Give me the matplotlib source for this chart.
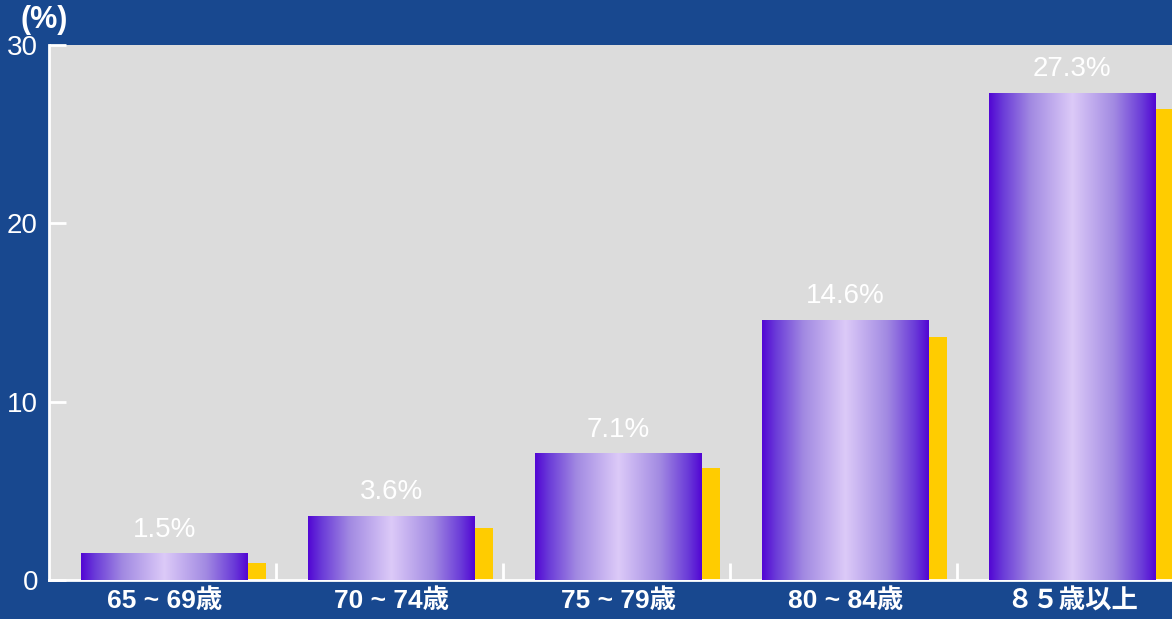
import numpy as np
import matplotlib
matplotlib.use("Agg")
import matplotlib.pyplot as plt
from matplotlib.colors import LinearSegmentedColormap
from matplotlib.patches import Rectangle

categories = ["65 ~ 69歳", "70 ~ 74歳", "75 ~ 79歳", "80 ~ 84歳", "８５歳以上"]
main_values = [1.5, 3.6, 7.1, 14.6, 27.3]
side_values = [0.95, 2.9, 6.3, 13.6, 26.4]
value_labels = ["1.5%", "3.6%", "7.1%", "14.6%", "27.3%"]
y_ticks = [0, 10, 20, 30]

FONT = ["Liberation Sans", "Noto Sans CJK JP", "DejaVu Sans"]
plt.rcParams["font.family"] = FONT

W, H = 1172, 619
fig = plt.figure(figsize=(W / 100, H / 100), dpi=100)
fig.patch.set_facecolor("#18488f")

left_px, right_px, top_px, bottom_px = 49, 49 + 5 * 227, 45, 580
ax = fig.add_axes([left_px / W, (H - bottom_px) / H,
                   (right_px - left_px) / W, (bottom_px - top_px) / H])
ax.set_facecolor("#dcdcdc")
ax.set_xlim(0, 5)
ax.set_ylim(0, 30)

cmap = LinearSegmentedColormap.from_list(
    "purp", [(0.0, "#5206d4"), (0.08, "#6a3ad8"), (0.25, "#a28ae2"),
             (0.5, "#dccaf8"), (0.75, "#a28ae2"), (0.92, "#6a3ad8"),
             (1.0, "#5206d4")])
grad = np.linspace(0, 1, 256).reshape(1, -1)

off, bw = 0.141, 0.735
sw = 0.08
for i, (v, s) in enumerate(zip(main_values, side_values)):
    x0 = i + off
    ax.bar(x0 + bw + sw / 2, s, width=sw, color="#ffcc00", zorder=2)
    rect = Rectangle((x0, 0), bw, v, facecolor="none", edgecolor="none", zorder=3)
    ax.add_patch(rect)
    im = ax.imshow(grad, cmap=cmap, aspect="auto", extent=(x0, x0 + bw, 0, v),
                   zorder=3, interpolation="bicubic")
    im.set_clip_path(rect)
    ax.text(x0 + bw / 2, v + 0.6, value_labels[i], ha="center", va="bottom",
            color="white", fontsize=20, zorder=4)

ax.set_xlim(0, 5)
ax.set_ylim(0, 30)

for sp in ["top", "right"]:
    ax.spines[sp].set_visible(False)
for sp in ["left", "bottom"]:
    ax.spines[sp].set_color("white")
    ax.spines[sp].set_linewidth(2)

ax.set_yticks(y_ticks)
ax.set_yticklabels([str(t) for t in y_ticks])
ax.tick_params(axis="y", direction="in", length=12, width=2, color="white",
               labelcolor="white", labelsize=20, pad=8)

ax.set_xticks([1, 2, 3, 4])
ax.set_xticklabels([])
ax.tick_params(axis="x", which="major", direction="in", length=12, width=2,
               color="white")
ax.set_xticks([i + off + bw / 2 for i in range(5)], minor=True)
ax.set_xticklabels(categories, minor=True)
ax.tick_params(axis="x", which="minor", length=0, labelcolor="white",
               labelsize=19, pad=6)
for lbl in ax.get_xticklabels(minor=True):
    lbl.set_fontweight("bold")

fig.text(20 / W, 1 - 20 / H, "(%)", color="white", fontsize=22,
         ha="left", va="center", fontweight="bold")

fig.savefig("out.png", dpi=100, facecolor=fig.get_facecolor())
